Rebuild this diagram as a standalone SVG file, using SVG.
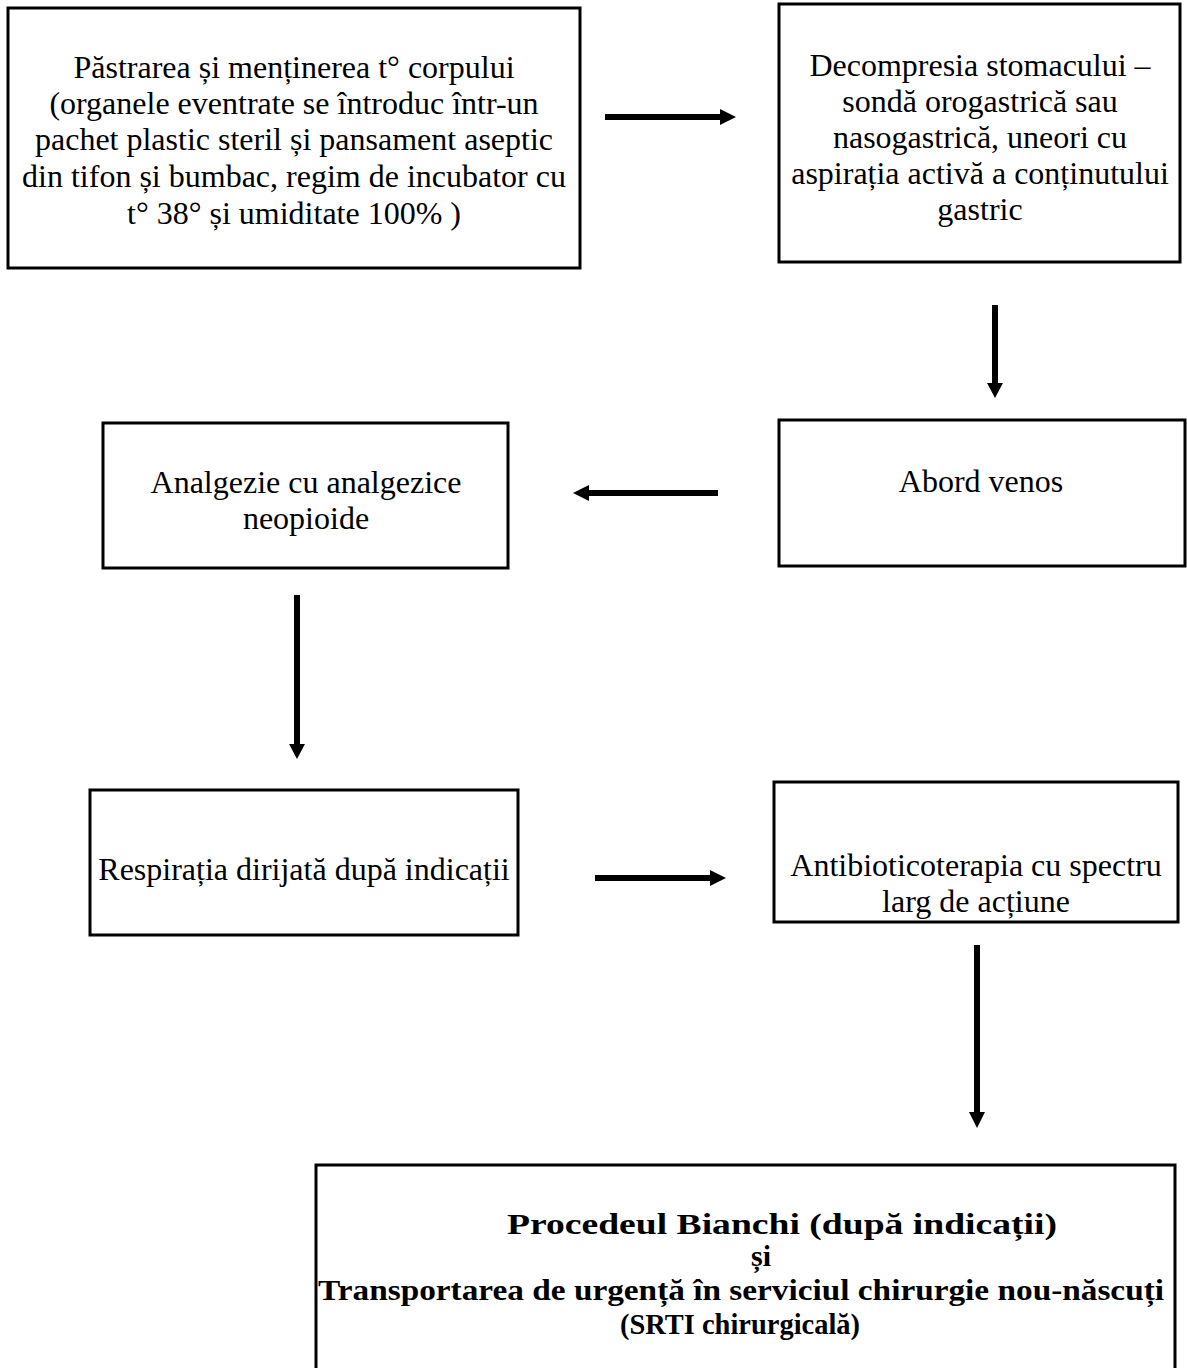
<svg xmlns="http://www.w3.org/2000/svg" width="1187" height="1368" viewBox="0 0 1187 1368">
<style>
.box{fill:#fff;stroke:#000;stroke-width:3}
.t{font-family:"Liberation Serif","Times New Roman",serif;font-size:32px;fill:#000;text-anchor:middle}
.b{font-family:"Liberation Serif","Times New Roman",serif;font-size:30px;font-weight:bold;fill:#000;text-anchor:middle}
.sh{stroke:#000;stroke-width:6;fill:none}
.hd{fill:#000}
</style>
<rect width="1187" height="1368" fill="#fff"/>
<g id="n1">
<rect class="box" x="8" y="8" width="572" height="260"/>
<text class="t" x="294" y="78">Păstrarea și menținerea t° corpului</text>
<text class="t" x="294" y="114">(organele eventrate se întroduc într-un</text>
<text class="t" x="294" y="150">pachet plastic steril și pansament aseptic</text>
<text class="t" x="294" y="187">din tifon și bumbac, regim de incubator cu</text>
<text class="t" x="294" y="224">t° 38° și umiditate 100% )</text>
</g>
<g id="n2">
<rect class="box" x="779" y="4" width="401" height="258"/>
<text class="t" x="980" y="76">Decompresia stomacului –</text>
<text class="t" x="980" y="112">sondă orogastrică sau</text>
<text class="t" x="980" y="148">nasogastrică, uneori cu</text>
<text class="t" x="980" y="184">aspirația activă a conținutului</text>
<text class="t" x="980" y="220">gastric</text>
</g>
<g id="n3">
<rect class="box" x="779" y="420" width="406" height="146"/>
<text class="t" x="981" y="492">Abord venos</text>
</g>
<g id="n4">
<rect class="box" x="103" y="423" width="405" height="145"/>
<text class="t" x="306" y="493">Analgezie cu analgezice</text>
<text class="t" x="306" y="529">neopioide</text>
</g>
<g id="n5">
<rect class="box" x="90" y="790" width="428" height="145"/>
<text class="t" x="304" y="880">Respirația dirijată după indicații</text>
</g>
<g id="n6">
<rect class="box" x="774" y="782" width="404" height="140"/>
<text class="t" x="976" y="876">Antibioticoterapia cu spectru</text>
<text class="t" x="976" y="912">larg de acțiune</text>
</g>
<g id="n7">
<rect class="box" x="316" y="1165" width="859" height="210"/>
<text class="b" x="782" y="1234" textLength="550" lengthAdjust="spacingAndGlyphs">Procedeul Bianchi (după indicații)</text>
<text class="b" x="761" y="1266">și</text>
<text class="b" x="741" y="1300" textLength="846" lengthAdjust="spacingAndGlyphs">Transportarea de urgență în serviciul chirurgie nou-născuți</text>
<text class="b" x="740" y="1334" textLength="240" lengthAdjust="spacingAndGlyphs">(SRTI chirurgicală)</text>
</g>
<g id="connectors">
<line class="sh" x1="605" y1="117" x2="722" y2="117"/>
<polygon class="hd" points="720,109 736,117 720,125"/>
<line class="sh" x1="995" y1="305" x2="995" y2="385"/>
<polygon class="hd" points="987,383 995,398 1003,383"/>
<line class="sh" x1="718" y1="493" x2="587" y2="493"/>
<polygon class="hd" points="589,485 573,493 589,501"/>
<line class="sh" x1="297" y1="595" x2="297" y2="746"/>
<polygon class="hd" points="289,744 297,759 305,744"/>
<line class="sh" x1="595" y1="878" x2="712" y2="878"/>
<polygon class="hd" points="710,870 726,878 710,886"/>
<line class="sh" x1="977" y1="945" x2="977" y2="1114"/>
<polygon class="hd" points="969,1112 977,1128 985,1112"/>
</g>
</svg>
